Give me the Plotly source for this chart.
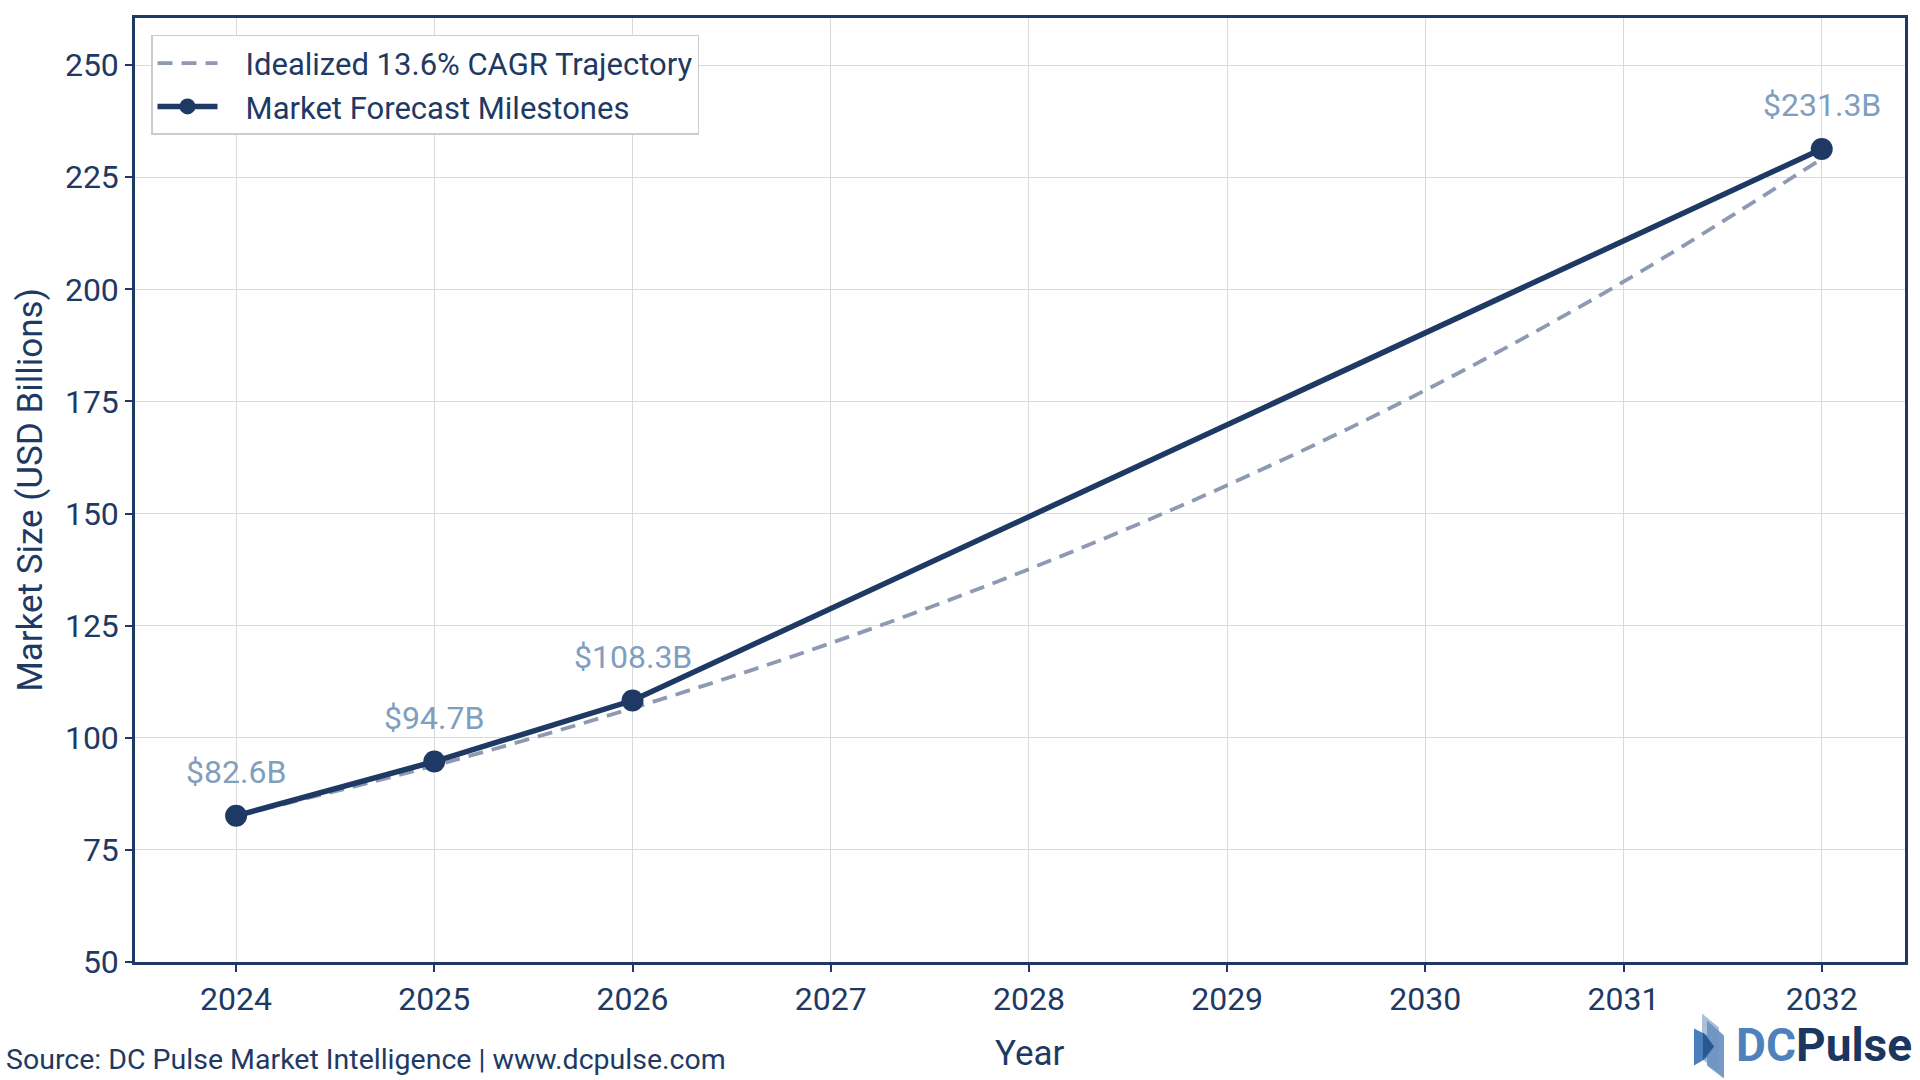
import plotly.graph_objects as go

# Data
years_cagr = [2024, 2025, 2026, 2027, 2028, 2029, 2030, 2031, 2032]
values_cagr = [82.6, 93.8, 106.6, 121.1, 137.6, 156.3, 177.5, 201.7, 229.1]
years_milestone = [2024, 2025, 2026, 2032]
values_milestone = [82.6, 94.7, 108.3, 231.3]
milestone_labels = ["$82.6B", "$94.7B", "$108.3B", "$231.3B"]
x_ticks = [2024, 2025, 2026, 2027, 2028, 2029, 2030, 2031, 2032]
y_ticks = [50, 75, 100, 125, 150, 175, 200, 225, 250]

NAVY = "#1e3a64"
DASH = "#8d9ab2"
LABEL = "#7f9ec0"
FONT = "Roboto"
PAD = "\u00a0\u00a0\u00a0"

PL, PR, PT, PB = 135, 1905, 18, 962.5


def px(xp):
    return (xp - PL) / (PR - PL)


def py(yp):
    return (PB - yp) / (PB - PT)


fig = go.Figure()
fig.add_trace(go.Scatter(
    x=years_cagr, y=values_cagr, mode="lines", line_shape="spline",
    name=PAD + "Idealized 13.6% CAGR Trajectory",
    line=dict(color=DASH, width=3.8, dash="15px,9px"),
))
fig.add_trace(go.Scatter(
    x=years_milestone, y=values_milestone, mode="lines+markers",
    name=PAD + "Market Forecast Milestones",
    line=dict(color=NAVY, width=5.5),
    marker=dict(color=NAVY, size=22),
))

for x, y, t in zip(years_milestone, values_milestone, milestone_labels):
    fig.add_annotation(x=x, y=y, text=t, showarrow=False, yshift=44,
                       font=dict(family=FONT, size=32, color=LABEL))

fig.add_annotation(xref="paper", yref="paper", x=px(4), y=py(1060), xanchor="left",
                   yanchor="middle", showarrow=False,
                   text="Source: DC Pulse Market Intelligence | www.dcpulse.com",
                   font=dict(family=FONT, size=28.5, color=NAVY))

fig.add_annotation(xref="paper", yref="paper", x=px(1030), y=py(1054), xanchor="center",
                   yanchor="middle", showarrow=False, text="Year",
                   font=dict(family=FONT, size=35, color=NAVY))

# Logo
fig.add_annotation(xref="paper", yref="paper", x=px(1913), y=py(1046), xanchor="right",
                   yanchor="middle", showarrow=False, borderpad=0,
                   text="<b><span style='color:#4f82bd'>DC</span><span style='color:#1b365f'>Pulse</span></b>",
                   font=dict(family=FONT, size=46))
icon = [
    ([(1702, 1014), (1719, 1028), (1719, 1072), (1702, 1060)], "#a9bcd6"),
    ([(1707, 1021), (1724, 1036), (1724, 1079), (1707, 1066)], "#6f93c2"),
    ([(1694, 1029), (1706, 1035), (1714, 1047), (1706, 1059), (1694, 1066)], "#3f78b8"),
    ([(1703, 1033), (1714, 1047), (1703, 1060)], "#2a558e"),
]
for pts, col in icon:
    path = "M " + " L ".join(f"{px(a)},{py(b)}" for a, b in pts) + " Z"
    fig.add_shape(type="path", xref="paper", yref="paper", path=path,
                  fillcolor=col, line=dict(width=0), opacity=0.95)

axis_common = dict(
    showline=True, mirror=True, linecolor=NAVY, linewidth=2.5,
    showgrid=True, gridcolor="#d9d9d9", gridwidth=1.2,
    ticks="outside", ticklen=7, tickwidth=1.5, tickcolor=NAVY,
    tickfont=dict(family=FONT, size=32, color=NAVY), zeroline=False,
)
fig.update_xaxes(range=[2023.49, 2032.42], tickvals=x_ticks, **axis_common)
fig.update_yaxes(range=[50, 260.5], tickvals=y_ticks,
                 title=dict(text="Market Size (USD Billions)",
                            font=dict(family=FONT, size=35, color=NAVY), standoff=12),
                 **axis_common)

fig.update_layout(
    width=1920, height=1080,
    margin=dict(l=135, r=15, t=18, b=118),
    paper_bgcolor="white", plot_bgcolor="white",
    font=dict(family=FONT, color=NAVY),
    legend=dict(x=px(151), y=py(35), xanchor="left", yanchor="top",
                bgcolor="white", bordercolor="#cccccc", borderwidth=1.5,
                font=dict(family=FONT, size=31, color=NAVY),
                itemwidth=60),
    showlegend=True,
)

fig.write_html("out.html")
